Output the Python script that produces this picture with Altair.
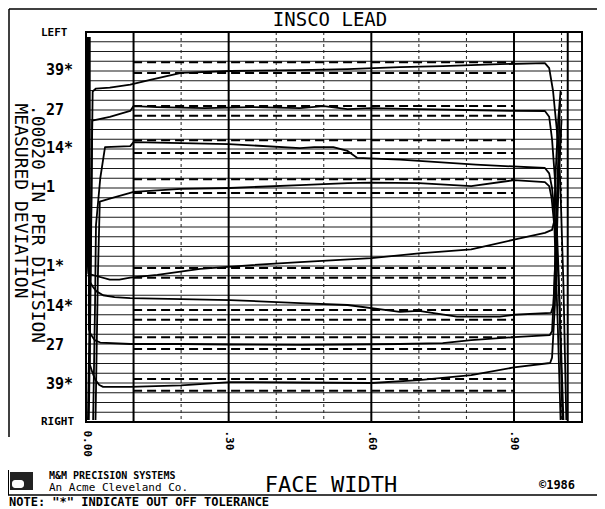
import altair as alt
import pandas as pd

W, H = 496, 390
X_MAX, Y_MAX = 1.043, 40
MONO = "DejaVu Sans Mono"

# ---------------- data (face width in inches, deviation in divisions) ----------------
trace_names = ["39L", "27L", "14L", "1L", "1R", "14R", "27R", "39R"]

x_39L = [0.004, 0.010, 0.014, 0.021, 0.050, 0.093, 0.135, 0.200, 0.303, 0.450, 0.550, 0.660, 0.750, 0.870, 0.965, 0.974, 0.982, 0.990, 0.997, 1.004, 1.010]
y_39L = [0.2, 18.0, 33.9, 34.2, 34.3, 34.6, 35.1, 35.8, 36.0, 36.1, 36.2, 36.4, 36.5, 36.7, 36.8, 36.3, 34.0, 30.0, 25.0, 14.0, 0.2]

x_27L = [0.006, 0.010, 0.013, 0.050, 0.093, 0.100, 0.150, 0.250, 0.350, 0.450, 0.500, 0.550, 0.600, 0.700, 0.800, 0.900, 0.965, 0.974, 0.980, 0.986, 0.994, 1.002]
y_27L = [0.2, 15.0, 30.9, 31.3, 31.9, 32.4, 32.3, 32.2, 32.3, 32.2, 32.4, 32.1, 32.2, 32.1, 32.0, 31.9, 31.9, 31.3, 29.0, 25.0, 15.0, 0.2]

x_14L = [0.015, 0.019, 0.021, 0.030, 0.040, 0.093, 0.100, 0.200, 0.300, 0.450, 0.480, 0.520, 0.550, 0.570, 0.660, 0.820, 0.965, 0.974, 0.980, 0.988, 0.996, 1.004]
y_14L = [0.2, 12.0, 20.2, 25.0, 28.2, 28.3, 28.7, 28.6, 28.5, 28.1, 28.2, 28.2, 27.8, 27.1, 26.9, 26.4, 26.05, 25.5, 24.0, 20.0, 12.0, 0.2]

x_1L = [0.020, 0.025, 0.029, 0.050, 0.093, 0.100, 0.200, 0.303, 0.450, 0.550, 0.600, 0.700, 0.810, 0.900, 0.965, 0.974, 0.979, 0.985, 0.992, 0.998]
y_1L = [0.2, 15.0, 22.6, 22.9, 23.5, 23.6, 23.9, 24.0, 24.3, 24.5, 24.55, 24.5, 24.2, 24.8, 24.6, 24.2, 23.0, 20.0, 10.0, 0.2]

x_1R = [0.002, 0.002, 0.005, 0.020, 0.050, 0.070, 0.093, 0.150, 0.240, 0.350, 0.450, 0.600, 0.700, 0.810, 0.900, 0.965, 0.980, 0.984, 0.988, 0.993, 0.998]
y_1R = [39.5, 20.0, 15.2, 15.0, 14.6, 14.6, 14.8, 15.1, 15.7, 16.1, 16.4, 16.8, 17.3, 17.7, 18.7, 19.4, 19.7, 20.5, 26.0, 31.0, 34.0]

x_14R = [0.004, 0.004, 0.008, 0.014, 0.022, 0.036, 0.060, 0.093, 0.200, 0.303, 0.450, 0.550, 0.660, 0.700, 0.780, 0.870, 0.900, 0.978, 0.983, 0.988, 0.994, 1.000]
y_14R = [39.5, 16.0, 14.4, 13.9, 13.4, 13.0, 12.8, 12.7, 12.6, 12.5, 12.2, 12.0, 11.3, 11.4, 10.8, 10.8, 11.0, 11.2, 12.0, 18.0, 26.0, 31.0]

x_27R = [0.006, 0.006, 0.010, 0.018, 0.030, 0.093, 0.200, 0.303, 0.450, 0.550, 0.660, 0.750, 0.810, 0.900, 0.975, 0.980, 0.985, 0.991, 0.997]
y_27R = [39.5, 9.5, 9.0, 8.4, 8.15, 8.0, 8.0, 7.95, 7.9, 7.95, 8.0, 8.1, 8.4, 8.7, 8.9, 9.3, 14.0, 24.0, 33.0]

x_39R = [0.008, 0.008, 0.014, 0.020, 0.028, 0.036, 0.093, 0.200, 0.303, 0.450, 0.600, 0.700, 0.810, 0.900, 0.976, 0.980, 0.986, 0.992, 0.999]
y_39R = [39.5, 5.9, 5.0, 4.3, 3.8, 3.6, 3.6, 3.75, 4.1, 4.05, 4.0, 4.3, 4.8, 5.6, 6.05, 6.6, 12.0, 22.0, 30.0]

trace_x = [x_39L, x_27L, x_14L, x_1L, x_1R, x_14R, x_27R, x_39R]
trace_y = [y_39L, y_27L, y_14L, y_1L, y_1R, y_14R, y_27R, y_39R]

# tolerance (dashed) lines, evaluation range
tol_y = [36.9, 35.8, 32.4, 31.4, 28.9, 27.6, 24.9, 23.5, 15.8, 14.8, 11.5, 10.5, 8.7, 7.5, 4.4, 3.2]
tol_x_start, tol_x_end = 0.099, 0.898

# grid
grid_y = list(range(0, 41))
vsolid_x = [0.1, 0.3, 0.6, 0.9, 1.013]
vdash_x = [0.2, 0.4, 0.5, 0.7, 0.8, 1.0]
xtick_values = [0.0, 0.3, 0.6, 0.9]

# tooth labels
tooth_y = [36.1, 32.0, 28.1, 24.1, 16.0, 11.9, 7.9, 3.9]
tooth_label = ["39*", "27", "14*", "\u00a01", "\u00a01*", "14*", "27", "39*"]

side_y = [39.9, 0.0]
side_label = ["LEFT", "RIGHT"]

# ---------------- build ----------------
rows = []
for name, xs_, ys_ in zip(trace_names, trace_x, trace_y):
    for i, (a, b) in enumerate(zip(xs_, ys_)):
        rows.append({"trace": name, "i": i, "x": a, "y": b})
trace_df = pd.DataFrame(rows)

xsc = alt.Scale(domain=[0, X_MAX], nice=False, zero=False)
ysc = alt.Scale(domain=[0, Y_MAX], nice=False, zero=False)

xaxis = alt.Axis(
    values=xtick_values,
    labelExpr="datum.value == 0 ? '0.00' : replace(format(datum.value, '.2f'), '0.', '.')",
    labelAngle=90, labelAlign="left", labelBaseline="middle",
    labelFont=MONO, labelFontSize=11, labelFontWeight="bold", labelColor="black",
    labelPadding=8, ticks=False, domain=False, grid=False, title=None,
    labelFlush=False, labelOverlap=False,
)

one = pd.DataFrame({"a": [0]})

hgrid = alt.Chart(pd.DataFrame({"y": grid_y})).mark_rule(color="#1a1a1a", strokeWidth=1.2).encode(
    y=alt.Y("y:Q", scale=ysc, axis=None), x=alt.value(0), x2=alt.value(W))

vsolid = alt.Chart(pd.DataFrame({"x": vsolid_x})).mark_rule(color="black", strokeWidth=2).encode(
    x=alt.X("x:Q", scale=xsc, axis=xaxis), y=alt.value(0), y2=alt.value(H))

vdash = alt.Chart(pd.DataFrame({"x": vdash_x})).mark_rule(color="#222", strokeWidth=1, strokeDash=[3, 3]).encode(
    x=alt.X("x:Q", scale=xsc, axis=xaxis), y=alt.value(0), y2=alt.value(H))

tol_df = pd.DataFrame({"y": tol_y, "x": [tol_x_start] * len(tol_y), "x2": [tol_x_end] * len(tol_y)})
tol = alt.Chart(tol_df).mark_rule(color="black", strokeWidth=2, strokeDash=[9, 5]).encode(
    x=alt.X("x:Q", scale=xsc, axis=xaxis), x2="x2:Q", y=alt.Y("y:Q", scale=ysc, axis=None))

lines = alt.Chart(trace_df).mark_line(color="black", strokeWidth=1.8, strokeJoin="round").encode(
    x=alt.X("x:Q", scale=xsc, axis=xaxis), y=alt.Y("y:Q", scale=ysc, axis=None),
    detail="trace:N", order="i:Q")

border = alt.Chart(one).mark_rect(fillOpacity=0, stroke="black", strokeWidth=2).encode(
    x=alt.value(0), x2=alt.value(W), y=alt.value(0), y2=alt.value(H))

tooth = alt.Chart(pd.DataFrame({"y": tooth_y, "label": tooth_label})).mark_text(
    align="left", baseline="middle", font=MONO, fontSize=15, fontWeight="bold", color="black").encode(
    y=alt.Y("y:Q", scale=ysc, axis=None), x=alt.value(-40), text="label:N")

side = alt.Chart(pd.DataFrame({"y": side_y, "label": side_label})).mark_text(
    align="left", baseline="middle", font=MONO, fontSize=11, fontWeight="bold", color="black").encode(
    y=alt.Y("y:Q", scale=ysc, axis=None), x=alt.value(-45), text="label:N")


def txt(text, x, y, size, weight="normal", align="center", angle=0):
    m = dict(text=text, font=MONO, fontSize=size, fontWeight=weight, align=align,
             baseline="middle", color="black")
    if angle:
        m["angle"] = angle
    return alt.Chart(one).mark_text(**m).encode(x=alt.value(x), y=alt.value(y))


title = txt("INSCO LEAD", 244, -12, 19)
ytitle1 = txt("MEASURED DEVIATION", -66, 169, 18, angle=90)
ytitle2 = txt(".00020 IN PER DIVISION", -49, 192, 18, angle=90)
xtitle = txt("FACE WIDTH", 245, 453, 22)
copy = txt("\u00a91986", 471, 453, 12, weight="bold")
mm1 = txt("M&M PRECISION SYSTEMS", -37, 444, 10, weight="bold", align="left")
mm2 = txt("An Acme Cleveland Co.", -37, 456, 11, align="left")
note = txt("NOTE:  \"*\" INDICATE OUT OFF TOLERANCE", -77, 470, 12, weight="bold", align="left")

frame_top = alt.Chart(one).mark_rule(color="black", strokeWidth=1.5).encode(
    x=alt.value(-77), x2=alt.value(W + 15), y=alt.value(-23))
frame_left = alt.Chart(one).mark_rule(color="black", strokeWidth=1.5).encode(
    x=alt.value(-77), y=alt.value(-23), y2=alt.value(405))
frame_bottom = alt.Chart(one).mark_rule(color="black", strokeWidth=1.5).encode(
    x=alt.value(-78), x2=alt.value(W + 15), y=alt.value(463))

logo_box = alt.Chart(one).mark_rect(color="#222").encode(
    x=alt.value(-76), x2=alt.value(-53), y=alt.value(440), y2=alt.value(458))
logo_in = alt.Chart(one).mark_rect(color="white", cornerRadius=3).encode(
    x=alt.value(-74), x2=alt.value(-62), y=alt.value(448), y2=alt.value(456))
logo_side = alt.Chart(one).mark_rule(color="black", strokeWidth=2).encode(
    x=alt.value(-78), y=alt.value(438), y2=alt.value(463))

chart = alt.layer(
    hgrid, vdash, vsolid, tol, lines, border, tooth, side,
    title, ytitle1, ytitle2, xtitle, copy, mm1, mm2, note,
    frame_top, frame_left, frame_bottom, logo_box, logo_in, logo_side,
).properties(
    width=W, height=H,
    autosize=alt.AutoSizeParams(type="none"),
    padding={"left": 78, "top": 24, "right": 15, "bottom": 87},
    background="white",
).configure_view(stroke=None)

chart.save("out.html", embed_options={"renderer": "svg", "actions": False})
